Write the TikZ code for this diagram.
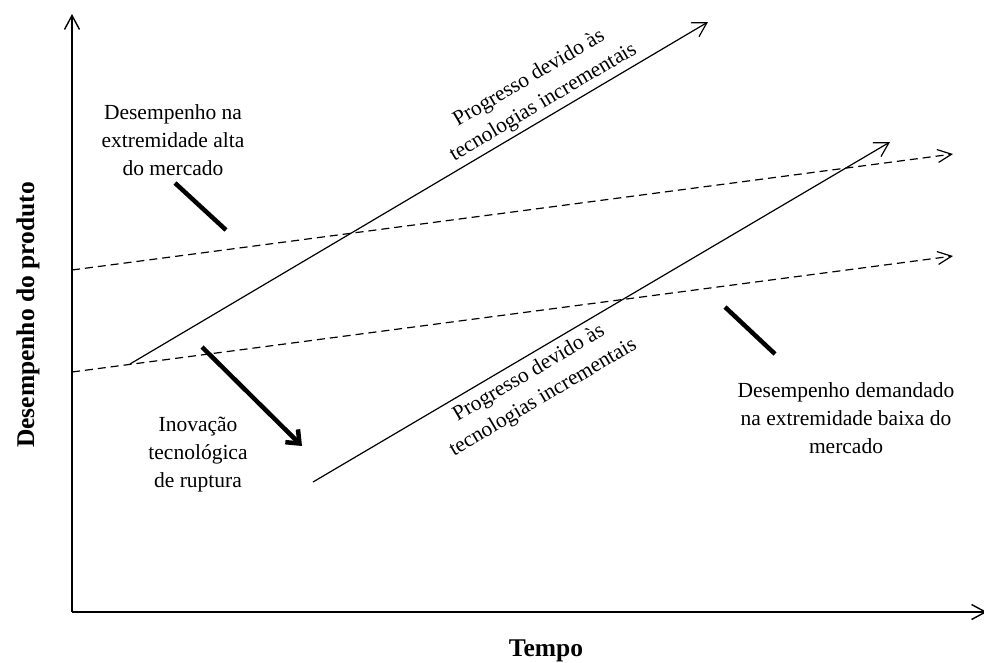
\documentclass[tikz,border=0pt]{standalone}
\usepackage{fontspec}
\setmainfont{Liberation Serif}
\usetikzlibrary{arrows.meta}
\begin{document}
\begin{tikzpicture}[x=1pt,y=-1pt,
  txt/.style={font=\fontsize{21.5}{28}\selectfont, align=center, inner sep=0pt},
  axislabel/.style={font=\fontsize{25.5}{30}\selectfont\bfseries, inner sep=0pt},
  axisline/.style={line width=1.4pt, -{Straight Barb[length=14pt,width=15pt]}},
  trend/.style={line width=1.2pt, -{Straight Barb[length=14pt,width=16pt]}},
  demand/.style={line width=1.2pt, dash pattern=on 8pt off 5pt, -{Straight Barb[length=14pt,width=13pt]}},
  pointer/.style={line width=4.5pt},
  leap/.style={line width=4.5pt, -{Straight Barb[length=11pt,width=18pt]}},
  slopedlabel/.style={font=\fontsize{21.5}{28}\selectfont, align=center, sloped},
]
\useasboundingbox (0,0) rectangle (984,662);

% axes
\coordinate (origin) at (72,612);
\coordinate (ytip) at (72,14);
\coordinate (xtip) at (987,612);
\draw[axisline] (origin) -- (ytip);
\draw[axisline] (origin) -- (xtip);
\node[axislabel, rotate=90] (ylab) at (28,315) {Desempenho do produto};
\node[axislabel, anchor=base] (xlab) at (546,656) {Tempo};

% market demand trajectories
\coordinate (hiS) at (72,270);
\coordinate (hiE) at (953,154);
\coordinate (loS) at (72,372);
\coordinate (loE) at (953,256);
\draw[demand] (hiS) -- (hiE);
\draw[demand] (loS) -- (loE);

% technology progress trajectories
\coordinate (upS) at (130,364);
\coordinate (upE) at (708,22);
\coordinate (dnS) at (313,482);
\coordinate (dnE) at (890,142);
\draw[trend] (upS) -- (upE)
  node[slopedlabel, pos=0.728, above, inner sep=4pt] (upLab)
  {Progresso devido às\\tecnologias incrementais};
\draw[trend] (dnS) -- (dnE)
  node[slopedlabel, pos=0.36, below, inner sep=6pt] (dnLab)
  {Progresso devido às\\tecnologias incrementais};

% annotations
\node[txt] (hiTxt) at (173,140) {Desempenho na\\extremidade alta\\do mercado};
\coordinate (hiP1) at (175,183);
\coordinate (hiP2) at (226,230);
\draw[pointer] (hiP1) -- (hiP2);

\node[txt] (loTxt) at (846,418) {Desempenho demandado\\na extremidade baixa do\\mercado};
\coordinate (loP1) at (725,307);
\coordinate (loP2) at (775,354);
\draw[pointer] (loP1) -- (loP2);

\node[txt] (ruptTxt) at (198,455) {Inovação\\tecnológica\\de ruptura};
\coordinate (leapS) at (202,347);
\coordinate (leapE) at (302,446);
\draw[leap] (leapS) -- (leapE);
\end{tikzpicture}
\end{document}
